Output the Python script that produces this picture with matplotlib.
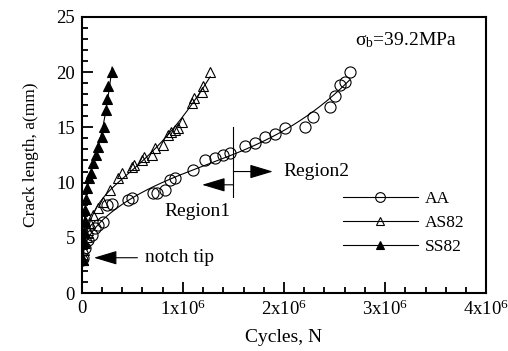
import numpy as np
import matplotlib
matplotlib.use("Agg")
import matplotlib.pyplot as plt
from matplotlib.ticker import MultipleLocator, FixedLocator

plt.rcParams['font.family'] = ['Liberation Serif', 'DejaVu Serif']
plt.rcParams['mathtext.fontset'] = 'custom'
plt.rcParams['mathtext.rm'] = 'Liberation Serif'
plt.rcParams['mathtext.it'] = 'Liberation Serif'

# cycles in units of 1e6, crack length in mm
aa_n = [0.00, 0.01, 0.03, 0.06, 0.10, 0.13, 0.16, 0.21, 0.25, 0.30, 0.46, 0.50,
        0.70, 0.74, 0.82, 0.87, 0.92, 1.10, 1.22, 1.32, 1.40, 1.47, 1.61, 1.71,
        1.81, 1.91, 2.01, 2.21, 2.29, 2.46, 2.50, 2.55, 2.60, 2.65]
aa_a = [3.0, 3.2, 4.1, 4.8, 5.3, 5.9, 6.2, 6.4, 8.0, 8.1, 8.4, 8.6,
        9.1, 9.1, 9.3, 10.2, 10.4, 11.1, 12.0, 12.2, 12.5, 12.7, 13.3, 13.6,
        14.1, 14.4, 14.9, 15.0, 15.9, 16.8, 17.8, 18.8, 19.1, 20.0]

as_n = [0.01, 0.02, 0.03, 0.05, 0.06, 0.08, 0.11, 0.16, 0.21, 0.28, 0.36, 0.40,
        0.50, 0.52, 0.60, 0.62, 0.69, 0.72, 0.80, 0.85, 0.88, 0.92, 0.95, 0.99,
        1.09, 1.11, 1.19, 1.20, 1.27]
as_a = [3.0, 3.9, 4.5, 5.1, 5.7, 6.3, 7.1, 7.7, 8.2, 9.3, 10.4, 10.9,
        11.4, 11.6, 12.0, 12.3, 12.5, 13.1, 13.4, 14.3, 14.6, 14.8, 14.9, 15.5,
        17.2, 17.7, 18.2, 18.7, 20.0]

ss_n = [0.01, 0.02, 0.02, 0.03, 0.03, 0.04, 0.05, 0.07, 0.09, 0.11, 0.14, 0.16,
        0.20, 0.22, 0.24, 0.25, 0.26, 0.30]
ss_a = [3.0, 4.5, 5.5, 6.5, 7.5, 8.5, 9.5, 10.4, 10.9, 11.8, 12.5, 13.2,
        14.1, 15.0, 16.6, 17.6, 18.7, 20.0]

series = [("AA", aa_n, aa_a, 'o', 'none', 5),
          ("AS82", as_n, as_a, '^', 'none', 3),
          ("SS82", ss_n, ss_a, '^', 'black', 3)]

fig = plt.figure(figsize=(5.08, 3.51), dpi=100)
ax = fig.add_axes([0.161, 0.165, 0.796, 0.787])

for name, n, a, mk, fc, deg in series:
    n = np.array(n)
    a = np.array(a)
    # smooth fit curve in sqrt(N)
    coef = np.polyfit(np.sqrt(n), a, deg)
    nn = np.linspace(n.min(), n.max(), 200)
    ax.plot(nn * 1e6, np.polyval(coef, np.sqrt(nn)), color='black', lw=0.8)
    ax.plot(n * 1e6, a, linestyle='none', marker=mk, mfc=fc, mec='black',
            ms=8 if mk == 'o' else 7, mew=0.8)
    # legend proxy
    ax.plot([], [], color='black', lw=0.8, marker=mk, mfc=fc, mec='black',
            ms=7 if mk == 'o' else 6, mew=0.8, label=name)

ax.set_xlim(0, 4e6)
ax.set_ylim(0, 25)
ax.xaxis.set_major_locator(FixedLocator([0, 1e6, 2e6, 3e6, 4e6]))
ax.xaxis.set_minor_locator(MultipleLocator(0.2e6))
ax.set_xticklabels(['0', r'$\mathregular{1x10^6}$', r'$\mathregular{2x10^6}$',
                    r'$\mathregular{3x10^6}$', r'$\mathregular{4x10^6}$'])
ax.yaxis.set_major_locator(MultipleLocator(5))
ax.yaxis.set_minor_locator(MultipleLocator(1))
ax.tick_params(which='both', direction='in', top=False, right=False,
               labelsize=13.5, width=1.3)
ax.tick_params(which='major', length=8, pad=5)
ax.tick_params(which='minor', length=4)
for s in ax.spines.values():
    s.set_linewidth(1.5)

ax.set_xlabel('Cycles, N', fontsize=14, labelpad=7)
ax.set_ylabel('Crack length, a(mm)', fontsize=12.5, labelpad=12)

ax.text(2.70e6, 22.9, r'$\mathregular{\sigma_b}$=39.2MPa', fontsize=14,
        va='center')

# region boundary and arrows
ax.plot([1.5e6, 1.5e6], [8.7, 15.0], color='black', lw=0.8)
arrow = dict(arrowstyle='-|>,head_length=1.2,head_width=0.36', color='black',
             lw=0.8, shrinkA=0, shrinkB=0, mutation_scale=12)
ax.annotate('', xy=(1.89e6, 11.0), xytext=(1.5e6, 11.0), arrowprops=arrow)
ax.text(1.99e6, 11.0, 'Region2', fontsize=14, va='center')
ax.annotate('', xy=(1.19e6, 9.8), xytext=(1.5e6, 9.8), arrowprops=arrow)
ax.text(1.14e6, 7.4, 'Region1', fontsize=14, va='center', ha='center')
ax.annotate('', xy=(0.12e6, 3.2), xytext=(0.55e6, 3.2), arrowprops=arrow)
ax.text(0.63e6, 3.2, 'notch tip', fontsize=14, va='center')

ax.legend(loc='upper left', bbox_to_anchor=(0.646, 0.37), frameon=False,
          fontsize=12.5, handlelength=4.3, labelspacing=0.45, handletextpad=0.4,
          borderpad=0, borderaxespad=0)

fig.savefig('out.png', dpi=100)
